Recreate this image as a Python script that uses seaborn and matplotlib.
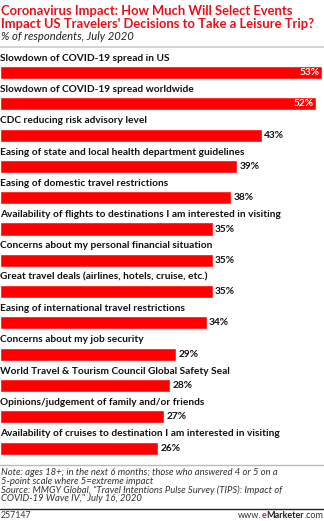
import matplotlib
matplotlib.use("Agg")
import matplotlib.pyplot as plt
from matplotlib.lines import Line2D
import seaborn as sns
import pandas as pd

categories = [
    "Slowdown of COVID-19 spread in US",
    "Slowdown of COVID-19 spread worldwide",
    "CDC reducing risk advisory level",
    "Easing of state and local health department guidelines",
    "Easing of domestic travel restrictions",
    "Availability of flights to destinations I am interested in visiting",
    "Concerns about my personal financial situation",
    "Great travel deals (airlines, hotels, cruise, etc.)",
    "Easing of international travel restrictions",
    "Concerns about my job security",
    "World Travel & Tourism Council Global Safety Seal",
    "Opinions/judgement of family and/or friends",
    "Availability of cruises to destination I am interested in visiting",
]
values = [53, 52, 43, 39, 38, 35, 35, 35, 34, 29, 28, 27, 26]

title_lines = [
    "Coronavirus Impact: How Much Will Select Events",
    "Impact US Travelers' Decisions to Take a Leisure Trip?",
]
subtitle = "% of respondents, July 2020"
note_lines = [
    "Note: ages 18+; in the next 6 months; those who answered 4 or 5 on a",
    "5-point scale where 5=extreme impact",
    "Source: MMGY Global, \"Travel Intentions Pulse Survey (TIPS): Impact of",
    "COVID-19 Wave IV,\" July 16, 2020",
]
chart_id = "257147"

RED = "#ff0000"
TITLE_RED = "#e8101a"
FONT = "Lato"

W, H = 324, 521
sns.set_theme(style="white")
plt.rcParams["font.family"] = [FONT, "DejaVu Sans"]

fig = plt.figure(figsize=(W / 100, H / 100), dpi=100)
fig.patch.set_facecolor("white")


def fy(py):
    return 1 - py / H


def fx(px):
    return px / W


# bar panel: row pitch 31.3 px, first bar centre at 72.5 px
pitch = 31.3
c0 = 72.5
top_px = c0 - pitch * 0.75
bot_px = c0 + pitch * 12.5
ax = fig.add_axes([0, fy(bot_px), 1, (bot_px - top_px) / H])

df = pd.DataFrame({"category": categories, "value": values})
sns.barplot(data=df, x="value", y="category", orient="h", color=RED,
            saturation=1, width=0.42, ax=ax, order=categories)
ax.set_xlim(0, 53.25)
ax.set_ylim(12.5, -0.75)
ax.axis("off")

for i, (cat, v) in enumerate(zip(categories, values)):
    ax.text(0, i - 0.46, cat, ha="left", va="center", fontsize=7.3,
            fontweight="bold", color="#111111")
    if v >= 50:
        ax.annotate(f"{v}%", xy=(v, i), xytext=(-2, 0), textcoords="offset points",
                    ha="right", va="center", fontsize=7.3, fontweight="bold",
                    color="white")
    else:
        ax.annotate(f"{v}%", xy=(v, i), xytext=(1.5, 0), textcoords="offset points",
                    ha="left", va="center", fontsize=7.3, fontweight="bold",
                    color="#111111")

# heading
fig.text(fx(1), fy(11), title_lines[0], ha="left", va="center", fontsize=9.4,
         fontweight="bold", color=TITLE_RED)
fig.text(fx(1), fy(24.5), title_lines[1], ha="left", va="center", fontsize=9.4,
         fontweight="bold", color=TITLE_RED)
fig.text(fx(1), fy(37), subtitle, ha="left", va="center", fontsize=8.1,
         style="italic", color="#222222")

# rules
fig.add_artist(Line2D([0, 1], [fy(46.5), fy(46.5)], color="#cccccc", lw=1.2))
fig.add_artist(Line2D([0, 1], [fy(465), fy(465)], color="#bbbbbb", lw=1.0))
fig.add_artist(Line2D([0, 1], [fy(509), fy(509)], color="#222222", lw=1.0))

# notes
for k, line in enumerate(note_lines):
    fig.text(fx(1), fy(472.5 + 8.7 * k), line, ha="left", va="center",
             fontsize=6.85, style="italic", color="#333333")

fig.text(fx(1), fy(515.5), chart_id, ha="left", va="center", fontsize=6.3,
         color="#333333")

# footer brand, built right to left
fig.canvas.draw()
renderer = fig.canvas.get_renderer()
pieces = [(".com", "normal", "#333333"), ("Marketer", "bold", "#222222"),
          ("e", "bold", TITLE_RED), ("www.", "normal", "#333333")]
x_right = fx(W - 1)
for txt, weight, col in pieces:
    t = fig.text(x_right, fy(515.5), txt, ha="right", va="center",
                 fontsize=6.5, fontweight=weight, color=col)
    bb = t.get_window_extent(renderer=renderer)
    x_right = bb.x0 / fig.bbox.width

fig.savefig("out.png", dpi=100, facecolor="white")
